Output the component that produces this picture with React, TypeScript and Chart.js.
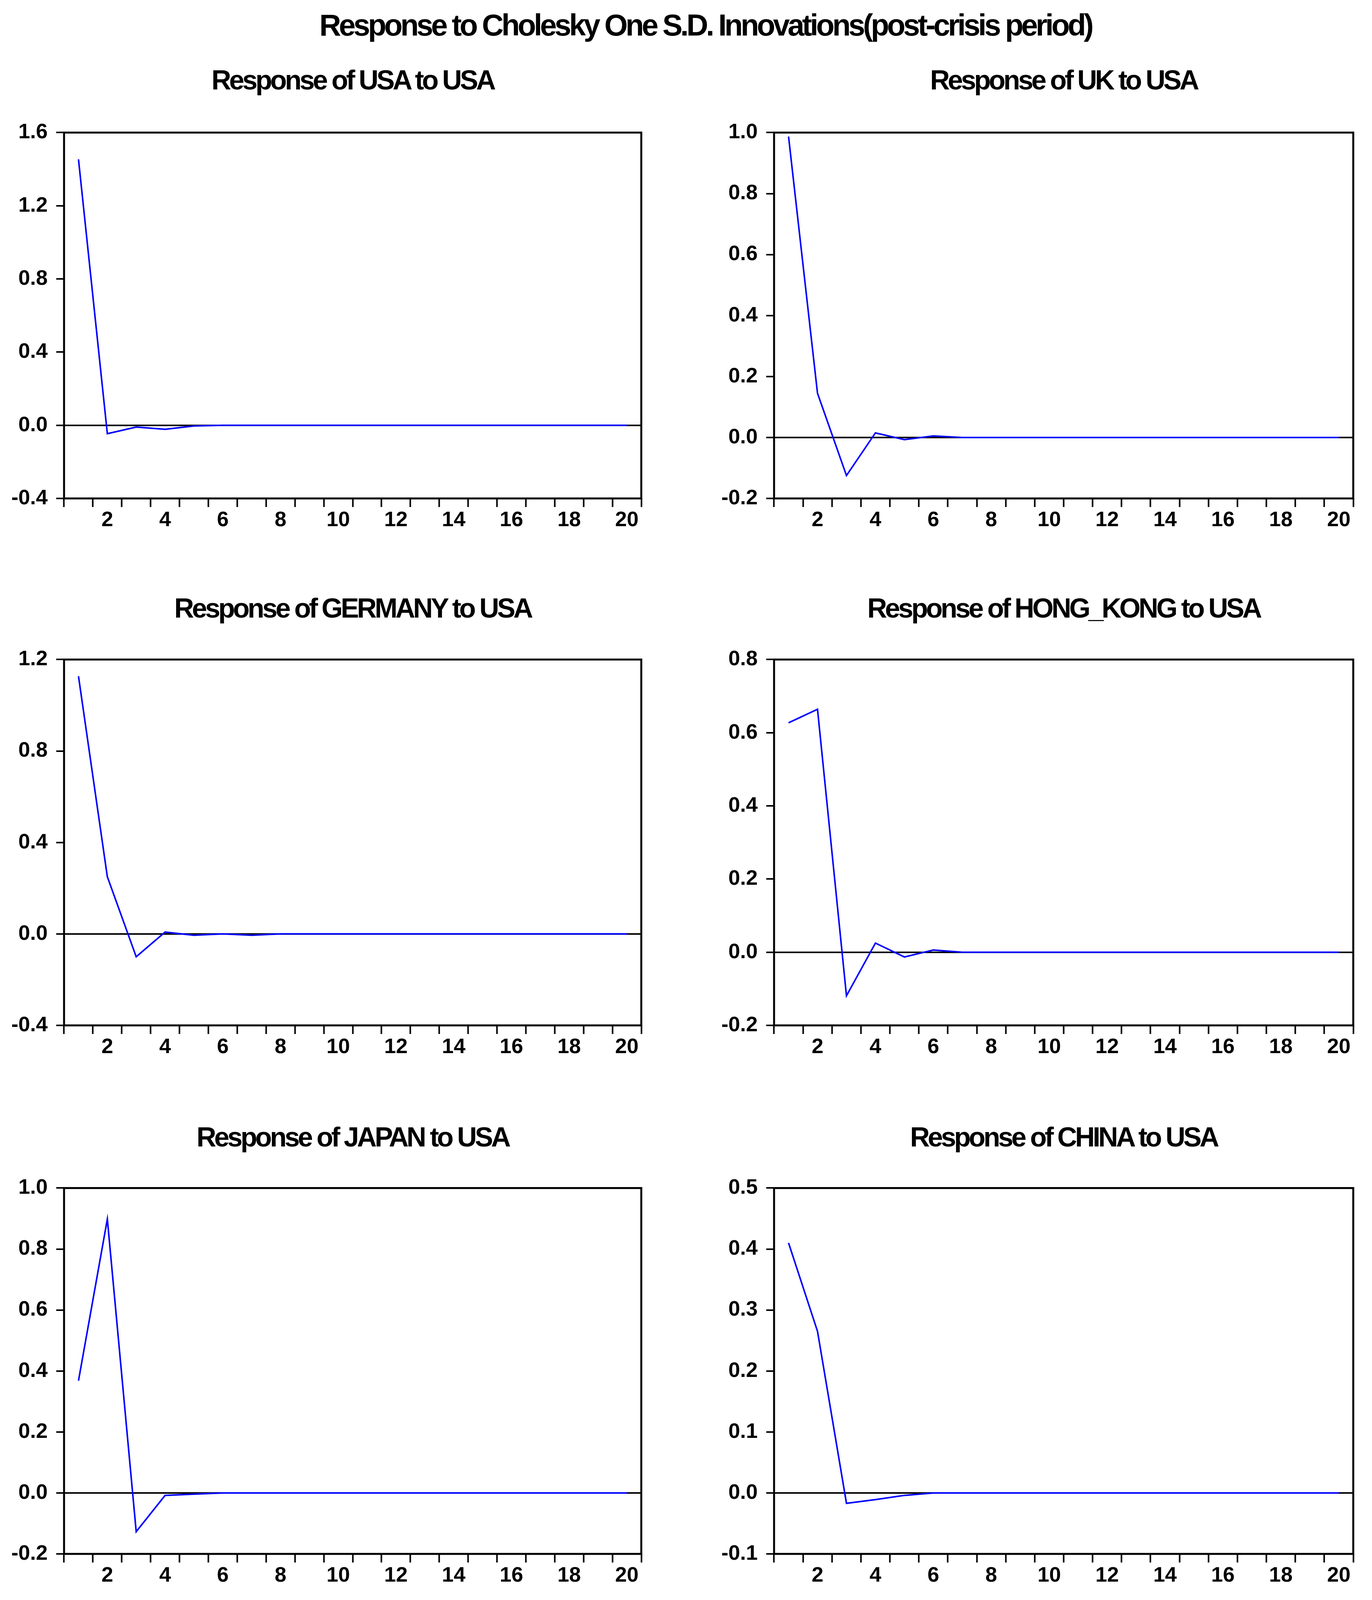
import React, { useEffect, useRef } from "react";
import { Chart, registerables } from "chart.js";

Chart.register(...registerables);

// Periods 1..20 on the horizontal axis
const periods = [
  "1", "2", "3", "4", "5", "6", "7", "8", "9", "10",
  "11", "12", "13", "14", "15", "16", "17", "18", "19", "20",
];

// Impulse responses
const usaToUsa = [1.454, -0.046, -0.01, -0.022, -0.004, 0, 0, 0, 0, 0, 0, 0, 0, 0, 0, 0, 0, 0, 0, 0];
const ukToUsa = [0.987, 0.145, -0.125, 0.015, -0.007, 0.005, 0, 0, 0, 0, 0, 0, 0, 0, 0, 0, 0, 0, 0, 0];
const germanyToUsa = [1.127, 0.25, -0.1, 0.008, -0.006, 0, -0.006, 0, 0, 0, 0, 0, 0, 0, 0, 0, 0, 0, 0, 0];
const hongKongToUsa = [0.627, 0.664, -0.119, 0.025, -0.013, 0.006, 0, 0, 0, 0, 0, 0, 0, 0, 0, 0, 0, 0, 0, 0];
const japanToUsa = [0.368, 0.898, -0.127, -0.008, -0.004, 0, 0, 0, 0, 0, 0, 0, 0, 0, 0, 0, 0, 0, 0, 0];
const chinaToUsa = [0.41, 0.265, -0.017, -0.011, -0.004, 0, 0, 0, 0, 0, 0, 0, 0, 0, 0, 0, 0, 0, 0, 0];

// Y axis ranges [min, max, step]
const usaRange = [-0.4, 1.6, 0.4];
const ukRange = [-0.2, 1.0, 0.2];
const germanyRange = [-0.4, 1.2, 0.4];
const hongKongRange = [-0.2, 0.8, 0.2];
const japanRange = [-0.2, 1.0, 0.2];
const chinaRange = [-0.1, 0.5, 0.1];

const FONT = "'Liberation Sans', Arial, Helvetica, sans-serif";

// the page is laid out for 3513x4161, stretched to whatever the viewport really is
const VW = typeof window !== "undefined" && window.innerWidth ? window.innerWidth : 3513;
const VH = typeof window !== "undefined" && window.innerHeight ? window.innerHeight : 4161;
const FX = VW / 3513;
const FY = VH / 4161;

const framePlugin = {
  id: "frame",
  afterDatasetsDraw(chart: Chart) {
    const { ctx, chartArea } = chart;
    const { left, top, right, bottom } = chartArea;
    ctx.save();
    ctx.strokeStyle = "#000";
    ctx.lineWidth = 5;
    ctx.strokeRect(left, top, right - left, bottom - top);
    ctx.restore();
  },
};

type PanelProps = {
  title: string;
  values: number[];
  range: number[];
  col: number;
  chartTop: number;
  titleY: number;
};

const PLOT_H = Math.round(966 * FY);
const TOP_PAD = 40;
const X_AXIS_H = 100;

const columns = [
  { canvasLeft: 0, canvasWidth: 1700, axisWidth: 164, padRight: 58 },
  { canvasLeft: 1760, canvasWidth: 1753, axisWidth: 222, padRight: 48 },
];

function Panel({ title, values, range, col, chartTop, titleY }: PanelProps) {
  const canvasRef = useRef<HTMLCanvasElement | null>(null);
  const chartRef = useRef<Chart | null>(null);
  const c = columns[col];
  const canvasLeft = Math.round(c.canvasLeft * FX);
  const canvasWidth = Math.round(c.canvasWidth * FX);
  const axisWidth = Math.round(c.axisWidth * FX);
  const padRight = Math.round(c.padRight * FX);
  const top = Math.round(chartTop * FY);
  const canvasTop = top - TOP_PAD;
  const canvasHeight = TOP_PAD + PLOT_H + X_AXIS_H;
  const plotLeft = canvasLeft + axisWidth;
  const plotWidth = canvasWidth - axisWidth - padRight;

  useEffect(() => {
    if (!canvasRef.current) return;
    const ctx = canvasRef.current.getContext("2d");
    if (!ctx) return;

    if (chartRef.current) {
      chartRef.current.destroy();
    }

    chartRef.current = new Chart(ctx, {
      type: "line",
      data: {
        labels: periods,
        datasets: [
          {
            data: values,
            borderColor: "#0000ff",
            borderWidth: 4,
            pointRadius: 0,
            tension: 0,
            fill: false,
          },
        ],
      },
      options: {
        responsive: false,
        animation: false,
        layout: { padding: { top: TOP_PAD, right: padRight, left: 0, bottom: 0 } },
        plugins: {
          legend: { display: false },
          tooltip: { enabled: false },
        },
        scales: {
          x: {
            offset: true,
            border: { display: false },
            grid: {
              offset: true,
              drawOnChartArea: false,
              tickLength: 22,
              tickColor: "#000",
              tickWidth: 4,
            },
            ticks: {
              autoSkip: false,
              maxRotation: 0,
              padding: 2,
              color: "#000",
              font: { family: FONT, size: 54, weight: "bold" },
              callback: function (value) {
                const label = this.getLabelForValue(value as number);
                return Number(label) % 2 === 0 ? label : "";
              },
            },
            afterFit: (scale) => {
              scale.height = X_AXIS_H;
            },
          },
          y: {
            min: range[0],
            max: range[1],
            border: { display: false },
            grid: {
              color: (gctx) =>
                gctx.tick && Math.abs(gctx.tick.value) < 1e-9 ? "#000" : "rgba(0,0,0,0)",
              lineWidth: 4,
              tickLength: 20,
              tickColor: "#000",
              tickWidth: 4,
            },
            ticks: {
              stepSize: range[2],
              autoSkip: false,
              padding: 22,
              color: "#000",
              font: { family: FONT, size: 54, weight: "bold" },
              callback: (value) => {
                const v = Number(value);
                return Math.abs(v) < 1e-9 ? "0.0" : v.toFixed(1);
              },
            },
            afterFit: (scale) => {
              scale.width = axisWidth;
            },
          },
        },
      },
      plugins: [framePlugin],
    });

    return () => {
      if (chartRef.current) {
        chartRef.current.destroy();
        chartRef.current = null;
      }
    };
  }, [values, range, col]);

  return (
    <>
      <div
        style={{
          position: "absolute",
          left: plotLeft,
          top: Math.round(titleY * FY) - 39,
          width: plotWidth,
          textAlign: "center",
          font: `bold 70px ${FONT}`,
          lineHeight: "80px",
          letterSpacing: "-5.2px",
          whiteSpace: "nowrap",
          color: "#000",
        }}
      >
        {title}
      </div>
      <canvas
        ref={canvasRef}
        width={canvasWidth}
        height={canvasHeight}
        style={{ position: "absolute", left: canvasLeft, top: canvasTop }}
      />
    </>
  );
}

export default function App() {
  return (
    <div
      style={{
        position: "absolute",
        left: 0,
        top: 0,
        width: VW,
        height: VH,
        background: "#fff",
        overflow: "hidden",
      }}
    >
      <div
        style={{
          position: "absolute",
          left: 0,
          top: Math.round(64 * FY) - 42,
          width: VW,
          paddingLeft: Math.round(100 * FX),
          boxSizing: "border-box",
          textAlign: "center",
          font: `bold 77px ${FONT}`,
          lineHeight: "86px",
          letterSpacing: "-5.6px",
          whiteSpace: "nowrap",
          color: "#000",
        }}
      >
        Response to Cholesky One S.D. Innovations(post-crisis period)
      </div>
      <Panel title="Response of USA to USA" values={usaToUsa} range={usaRange} col={0} chartTop={330} titleY={207} />
      <Panel title="Response of UK to USA" values={ukToUsa} range={ukRange} col={1} chartTop={330} titleY={207} />
      <Panel title="Response of GERMANY to USA" values={germanyToUsa} range={germanyRange} col={0} chartTop={1701} titleY={1581} />
      <Panel title="Response of HONG_KONG to USA" values={hongKongToUsa} range={hongKongRange} col={1} chartTop={1701} titleY={1581} />
      <Panel title="Response of JAPAN to USA" values={japanToUsa} range={japanRange} col={0} chartTop={3075} titleY={2956} />
      <Panel title="Response of CHINA to USA" values={chinaToUsa} range={chinaRange} col={1} chartTop={3075} titleY={2956} />
    </div>
  );
}
